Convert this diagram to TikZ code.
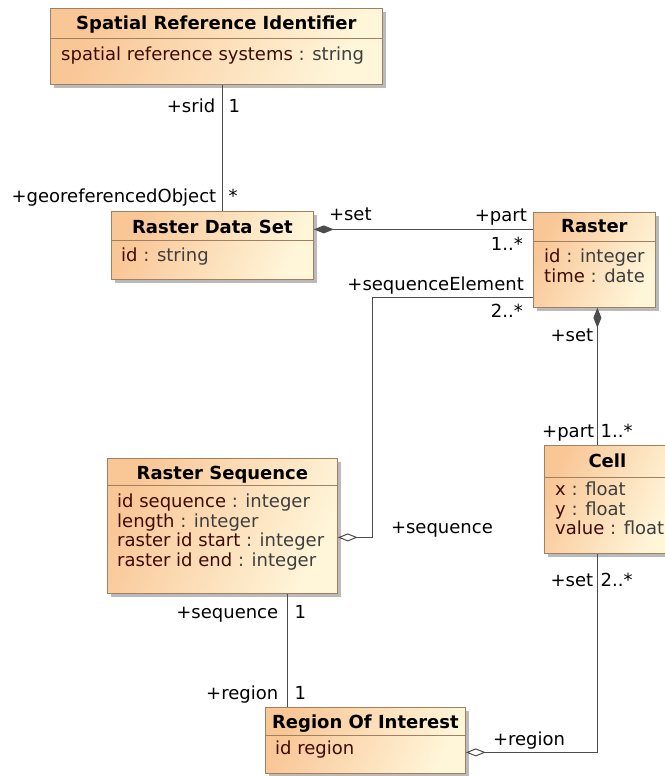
\documentclass[tikz,border=0pt]{standalone}
\usepackage{fontspec}
\setmainfont{DejaVu Sans}
\usetikzlibrary{calc}
\usetikzlibrary{arrows.meta}
\usetikzlibrary{shadows}
\usetikzlibrary{positioning}

\definecolor{classtop}{RGB}{249,198,150}
\definecolor{classbottom}{RGB}{255,246,218}
\definecolor{classborder}{RGB}{160,128,96}
\definecolor{attrname}{RGB}{62,12,6}
\definecolor{attrtype}{RGB}{62,62,62}

\newcommand{\attr}[2]{\textcolor{attrname}{#1} \textcolor{attrtype}{: #2}}

\tikzset{classbox/.style={draw=classborder, line width=0.8pt, anchor=north west, inner sep=0pt, left color=classtop, right color=classbottom, shading angle=65, drop shadow={shadow xshift=4pt, shadow yshift=-4pt, fill=black!45, opacity=0.6}}}
\tikzset{classtitle/.style={anchor=base, inner sep=0pt, font=\fontsize{18}{19.5}\selectfont\bfseries}}
\tikzset{classattr/.style={anchor=north west, inner sep=0pt, align=left, font=\fontsize{18}{19.5}\selectfont}}
\tikzset{classline/.style={draw=classborder, line width=0.8pt}}
\tikzset{connect/.style={draw=black!70, line width=1pt}}
\tikzset{role/.style={inner sep=1pt, text height=13pt, text depth=4pt, font=\fontsize{18}{19.5}\selectfont}}

\begin{document}
\begin{tikzpicture}[x=1pt,y=-1pt]
\useasboundingbox (0,0) rectangle (664,776);

%spatial reference identifier
\node[classbox,minimum width=332pt,minimum height=76pt] (sri) at (50,8) {};
\node[classtitle] (sriT) at ([yshift=-22pt]sri.north) {Spatial Reference Identifier};
\draw[classline] ([yshift=-30pt]sri.north west) -- ([yshift=-30pt]sri.north east);
\node[classattr] (sriA) at ([xshift=11pt,yshift=-39pt]sri.north west) {\attr{spatial reference systems}{string}};

%raster data set
\node[classbox,minimum width=202pt,minimum height=68pt] (rds) at (111,211) {};
\node[classtitle] (rdsT) at ([yshift=-22pt]rds.north) {Raster Data Set};
\draw[classline] ([yshift=-29pt]rds.north west) -- ([yshift=-29pt]rds.north east);
\node[classattr] (rdsA) at ([xshift=10pt,yshift=-37pt]rds.north west) {\attr{id}{string}};

%raster
\node[classbox,minimum width=122pt,minimum height=95pt] (raster) at (533,212) {};
\node[classtitle] (rasterT) at ([yshift=-20pt]raster.north) {Raster};
\draw[classline] ([yshift=-29pt]raster.north west) -- ([yshift=-29pt]raster.north east);
\node[classattr] (rasterA) at ([xshift=11pt,yshift=-37pt]raster.north west) {\attr{id}{integer}\\\attr{time}{date}};

%raster sequence
\node[classbox,minimum width=230pt,minimum height=135pt] (rseq) at (107,458) {};
\node[classtitle] (rseqT) at ([yshift=-21pt]rseq.north) {Raster Sequence};
\draw[classline] ([yshift=-27pt]rseq.north west) -- ([yshift=-27pt]rseq.north east);
\node[classattr] (rseqA) at ([xshift=10pt,yshift=-36pt]rseq.north west) {\attr{id sequence}{integer}\\\attr{length}{integer}\\\attr{raster id start}{integer}\\\attr{raster id end}{integer}};

%cell
\node[classbox,minimum width=126pt,minimum height=108pt] (cell) at (544,445) {};
\node[classtitle] (cellT) at ([yshift=-22pt]cell.north) {Cell};
\draw[classline] ([yshift=-32pt]cell.north west) -- ([yshift=-32pt]cell.north east);
\node[classattr] (cellA) at ([xshift=11pt,yshift=-37pt]cell.north west) {\attr{x}{float}\\\attr{y}{float}\\\attr{value}{float}};

%region of interest
\node[classbox,minimum width=200pt,minimum height=66pt] (roi) at (265,707) {};
\node[classtitle] (roiT) at ([yshift=-21pt]roi.north) {Region Of Interest};
\draw[classline] ([yshift=-28pt]roi.north west) -- ([yshift=-28pt]roi.north east);
\node[classattr] (roiA) at ([xshift=10pt,yshift=-34pt]roi.north west) {\textcolor{attrname}{id region}};

%srid -- georeferenced object
\coordinate (gTop) at ([xshift=6pt]sri.south);
\coordinate (gBot) at (gTop |- rds.north);
\path[connect] (gTop) -- (gBot);
\node[role,below left=13pt and 6pt of gTop] (sridRole) {+srid};
\node[role,below right=13pt and 5pt of gTop] (sridMult) {1};
\node[role,above left=3pt and 5pt of gBot] (georefRole) {+georeferencedObject};
\node[role,above right=3pt and 5pt of gBot] (georefMult) {*};

%set -- part (raster)
\coordinate (pL) at ([yshift=16pt]rds.east);
\coordinate (pR) at (pL -| raster.west);
\path[connect,{Diamond[length=20pt,width=8pt]}-] (pL) -- (pR);
\node[role,above right=4pt and 14pt of pL] (setRole) {+set};
\node[role,above left=3pt and 5pt of pR] (partRole) {+part};
\node[role,below left=7pt and 9pt of pR] (partMult) {1..*};

%sequence -- sequence element
\coordinate (qR) at ([yshift=-37.5pt]raster.west);
\coordinate (qL) at ([yshift=-11.5pt]rseq.east);
\path[connect,{Diamond[open,length=20pt,width=8pt]}-] (qL) -- ([xshift=35pt]qL) |- (qR);
\node[role,above left=2pt and 8pt of qR] (elemRole) {+sequenceElement};
\node[role,below left=6pt and 9pt of qR] (elemMult) {2..*};
\node[role,above right=-1pt and 52pt of qL] (seqRole) {+sequence};

%set -- part (cell)
\coordinate (rT) at ([xshift=3pt]raster.south);
\coordinate (rB) at (rT |- cell.north);
\path[connect,{Diamond[length=20pt,width=8pt]}-] (rT) -- (rB);
\node[role,below left=19pt and 3pt of rT] (cellSetRole) {+set};
\node[role,above left=2pt and 2pt of rB] (cellPartRole) {+part};
\node[role,above right=2pt and 2pt of rB] (cellPartMult) {1..*};

%sequence -- region
\coordinate (sT) at ([xshift=65pt]rseq.south);
\coordinate (sB) at (sT |- roi.north);
\path[connect] (sT) -- (sB);
\node[role,below left=10pt and 8pt of sT] (rseqRole) {+sequence};
\node[role,below right=10pt and 6pt of sT] (rseqMult) {1};
\node[role,above left=2pt and 8pt of sB] (roiRole) {+region};
\node[role,above right=2pt and 6pt of sB] (roiMult) {1};

%region -- cell set
\coordinate (tL) at ([yshift=-12pt]roi.east);
\coordinate (tB) at ([xshift=-10pt]cell.south);
\path[connect,{Diamond[open,length=20pt,width=8pt]}-] (tL) -| (tB);
\node[role,above right=2pt and 26pt of tL] (regionRole) {+region};
\node[role,below left=18pt and 3pt of tB] (cellSet2Role) {+set};
\node[role,below right=18pt and 2pt of tB] (cellSet2Mult) {2..*};

\end{tikzpicture}
\end{document}
